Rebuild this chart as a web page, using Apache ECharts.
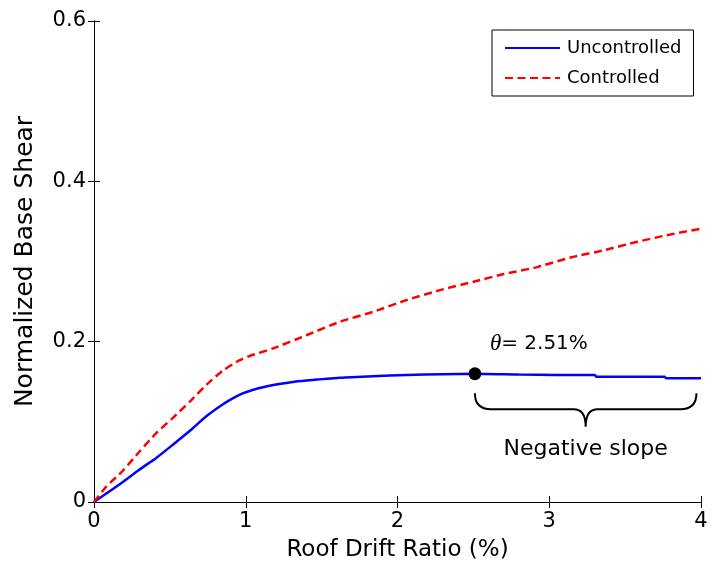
<!DOCTYPE html>
<html>
<head>
<meta charset="utf-8">
<style>
  html, body { margin: 0; padding: 0; background: #fff; }
  #chart { width: 712px; height: 577px; }
</style>
<script src="https://cdn.jsdelivr.net/npm/echarts@6/dist/echarts.min.js"></script>
</head>
<body>
<div id="chart"></div>
<script>
// Pushover curves: roof drift ratio (%) vs normalized base shear
const driftUncontrolled = [0, 0.10, 0.19, 0.30, 0.41, 0.52, 0.63, 0.74, 0.85, 0.92, 0.98, 1.05, 1.12, 1.20, 1.30, 1.40, 1.62, 1.84, 2.06, 2.30, 2.51, 2.80, 3.05, 3.30, 3.31, 3.76, 3.77, 4.00];
const shearUncontrolled = [0, 0.0130, 0.0250, 0.0405, 0.0550, 0.0715, 0.0885, 0.1070, 0.1220, 0.1300, 0.1355, 0.1400, 0.1435, 0.1465, 0.1495, 0.1515, 0.1550, 0.1570, 0.1585, 0.1595, 0.1600, 0.1590, 0.1585, 0.1585, 0.1562, 0.1562, 0.1545, 0.1545];

const driftControlled = [0, 0.08, 0.19, 0.30, 0.41, 0.52, 0.63, 0.74, 0.85, 0.96, 1.03, 1.18, 1.40, 1.62, 1.84, 2.06, 2.28, 2.50, 2.70, 2.92, 3.14, 3.36, 3.58, 3.80, 4.00];
const shearControlled = [0, 0.0190, 0.0390, 0.0630, 0.0860, 0.1050, 0.1250, 0.1460, 0.1640, 0.1770, 0.1825, 0.1916, 0.2080, 0.2248, 0.2373, 0.2519, 0.2643, 0.2747, 0.2843, 0.2930, 0.3050, 0.3140, 0.3246, 0.3338, 0.3410];

const seriesNames = ['Uncontrolled', 'Controlled'];
const xTicks = { min: 0, max: 4, interval: 1 };
const yTicks = { min: 0, max: 0.6, interval: 0.2 };

// Peak of the uncontrolled curve
const peakDrift = 2.51;
const peakShear = 0.160;

// Brace marking the descending branch (data units)
const braceFrom = 2.51;
const braceTo = 3.97;
const braceTop = 0.1355;
const braceMid = 0.1156;
const braceTip = 0.0939;
const braceTextLevel = 0.066;

const FONT = 'DejaVu Sans';
const pairs = (xs, ys) => xs.map((x, i) => [x, ys[i]]);

const chart = echarts.init(document.getElementById('chart'), null, { renderer: 'canvas' });

const axisLine = { show: true, lineStyle: { color: '#000', width: 1 } };
const tickIn = { show: true, inside: true, length: 6, lineStyle: { color: '#000', width: 1 } };

chart.setOption({
  animation: false,
  backgroundColor: '#fff',
  textStyle: { fontFamily: FONT, color: '#000' },
  grid: { left: 94, right: 11, top: 21, bottom: 75, containLabel: false },
  legend: {
    data: seriesNames,
    orient: 'vertical',
    left: 492,
    top: 30,
    padding: [9, 12, 9, 12],
    itemWidth: 55,
    itemHeight: 20,
    itemGap: 12,
    borderColor: '#000',
    borderWidth: 1,
    backgroundColor: '#fff',
    itemStyle: { opacity: 0 },
    textStyle: { fontFamily: FONT, fontSize: 18, color: '#000', padding: [0, 0, 0, 2] }
  },
  xAxis: [
    {
      type: 'value', position: 'bottom', ...xTicks,
      axisLine, axisTick: tickIn, splitLine: { show: false },
      axisLabel: { fontSize: 21, color: '#000', margin: 9, fontFamily: FONT },
      name: 'Roof Drift Ratio (%)', nameLocation: 'middle', nameGap: 37,
      nameTextStyle: { fontSize: 23, color: '#000', fontFamily: FONT }
    },
    {
      type: 'value', position: 'top', ...xTicks,
      axisLine, axisTick: tickIn, splitLine: { show: false },
      axisLabel: { show: false }
    }
  ],
  yAxis: [
    {
      type: 'value', position: 'left', ...yTicks,
      axisLine, axisTick: tickIn, splitLine: { show: false },
      axisLabel: {
        fontSize: 21, color: '#000', margin: 8, fontFamily: FONT,
        formatter: v => (v === 0 ? '0' : v.toFixed(1))
      },
      name: 'Normalized Base Shear', nameLocation: 'middle', nameGap: 56,
      nameTextStyle: { fontSize: 25, color: '#000', fontFamily: FONT }
    },
    {
      type: 'value', position: 'right', ...yTicks,
      axisLine, axisTick: tickIn, splitLine: { show: false },
      axisLabel: { show: false }
    }
  ],
  series: [
    {
      name: seriesNames[0],
      type: 'line',
      data: pairs(driftUncontrolled, shearUncontrolled),
      symbol: 'none',
      smooth: 0.2,
      lineStyle: { color: '#0000ff', width: 2.5 },
      itemStyle: { color: '#0000ff' },
      z: 3
    },
    {
      name: seriesNames[1],
      type: 'line',
      data: pairs(driftControlled, shearControlled),
      symbol: 'none',
      smooth: 0.2,
      lineStyle: { color: '#ff0000', width: 2.5, type: [8, 4.5] },
      itemStyle: { color: '#ff0000' },
      z: 3
    },
    {
      name: 'peak',
      type: 'scatter',
      data: [[peakDrift, peakShear]],
      symbol: 'circle',
      symbolSize: 13,
      itemStyle: { color: '#000', opacity: 1 },
      z: 5,
      silent: true
    },
    {
      name: 'annotation',
      type: 'custom',
      data: [[braceFrom, braceTo, braceTop, braceMid, braceTip, braceTextLevel]],
      silent: true,
      z: 4,
      renderItem: (params, api) => {
        const x0 = api.value(0), x1 = api.value(1);
        const xm = (x0 + x1) / 2;
        const pTop0 = api.coord([x0, api.value(2)]);
        const pTop1 = api.coord([x1, api.value(2)]);
        const yMid = api.coord([x0, api.value(3)])[1];
        const yTip = api.coord([x0, api.value(4)])[1];
        const xmPx = api.coord([xm, 0])[0];
        const r = 16, rc = 12;
        const path =
          `M${pTop0[0]},${pTop0[1]} Q${pTop0[0]},${yMid} ${pTop0[0] + r},${yMid} ` +
          `L${xmPx - rc},${yMid} Q${xmPx},${yMid} ${xmPx},${yTip} ` +
          `Q${xmPx},${yMid} ${xmPx + rc},${yMid} ` +
          `L${pTop1[0] - r},${yMid} Q${pTop1[0]},${yMid} ${pTop1[0]},${pTop1[1]}`;
        const textPos = api.coord([xm, api.value(5)]);
        const peakPos = api.coord([peakDrift, peakShear]);
        return {
          type: 'group',
          children: [
            {
              type: 'path',
              shape: { pathData: path },
              style: { fill: null, stroke: '#000', lineWidth: 2 }
            },
            {
              type: 'text',
              x: textPos[0], y: textPos[1],
              style: {
                text: 'Negative slope', fill: '#000',
                font: `22px "${FONT}"`, align: 'center', verticalAlign: 'middle'
              }
            },
            {
              type: 'text',
              x: peakPos[0] + 15, y: peakPos[1] - 30,
              style: {
                text: '{t|θ}{n|= ' + peakDrift.toFixed(2) + '%}',
                align: 'left', verticalAlign: 'middle',
                rich: {
                  t: { fontFamily: 'Liberation Serif', fontStyle: 'italic', fontSize: 23, fill: '#000' },
                  n: { fontFamily: FONT, fontSize: 20, fill: '#000' }
                }
              }
            }
          ]
        };
      }
    }
  ]
});
</script>
</body>
</html>
